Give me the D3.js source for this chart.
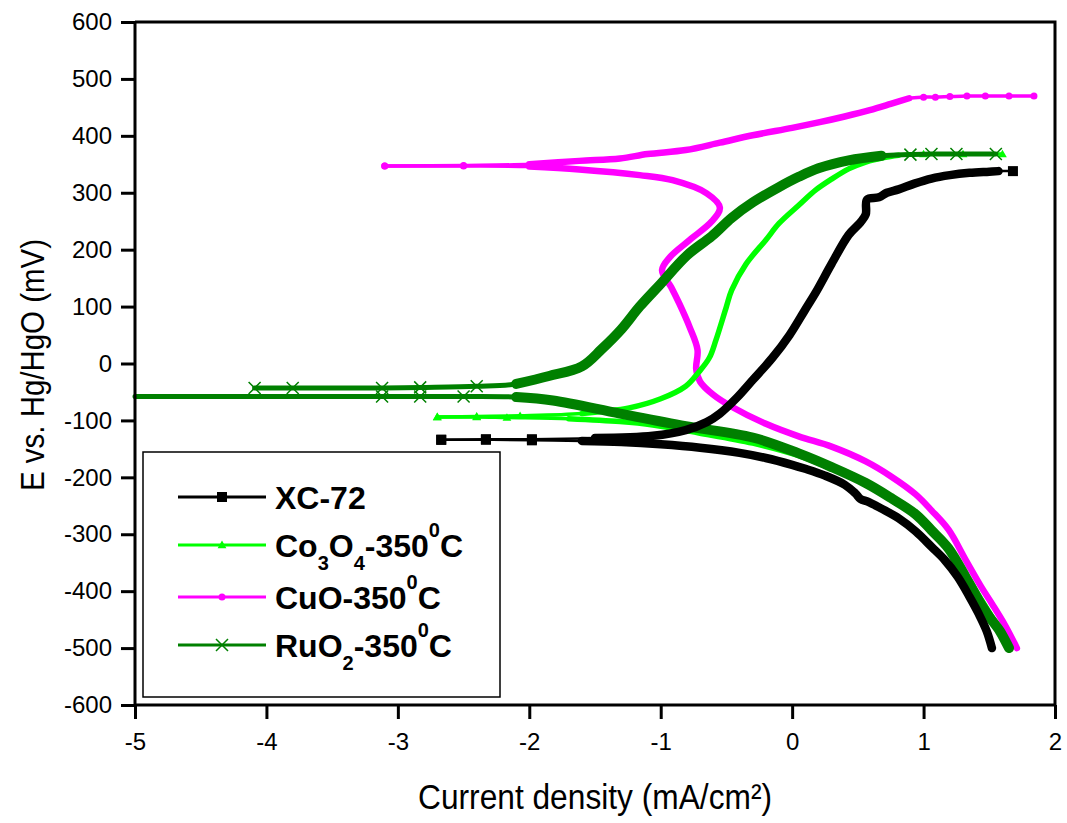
<!DOCTYPE html>
<html><head><meta charset="utf-8">
<script src="https://cdn.jsdelivr.net/npm/d3@7"></script>
<style>body{margin:0;background:#fff}svg{display:block}text{font-family:Arial,"Liberation Sans",sans-serif}</style>
</head><body><svg id="c" width="1067" height="823"></svg>
<script>
// ---- data: log current density (x) vs potential E (mV) ----
const xTicks = [-5,-4,-3,-2,-1,0,1,2];
const yTicks = [600,500,400,300,200,100,0,-100,-200,-300,-400,-500,-600];

const xc72Cath = [[1.52,-500],[1.48,-470],[1.42,-440],[1.35,-410],[1.26,-375],[1.16,-345],[1.06,-322],[0.94,-295],[0.81,-272],[0.68,-255],[0.58,-243],[0.52,-238],[0.48,-228],[0.40,-213],[0.25,-197],[0.10,-185],[0,-178],[-0.2,-166],[-0.4,-157],[-0.7,-148],[-1.0,-142],[-1.3,-138],[-1.6,-136],[-1.98,-135],[-2.33,-134],[-2.67,-134]];
const xc72Anod = [[-2.67,-134],[-2.33,-133],[-1.98,-133],[-1.5,-131],[-1.06,-127],[-0.81,-117],[-0.65,-103],[-0.55,-88],[-0.42,-60],[-0.3,-29],[-0.15,10],[-0.02,50],[0.1,95],[0.18,125],[0.3,175],[0.43,226],[0.52,248],[0.56,262],[0.57,288],[0.66,292],[0.72,300],[0.81,306],[0.93,316],[1.06,325],[1.2,331],[1.35,335],[1.5,337],[1.57,338],[1.68,338]];

const co3o4Cath = [[1.66,-500],[1.6,-475],[1.52,-445],[1.44,-415],[1.32,-370],[1.19,-325],[1.06,-293],[0.94,-268],[0.75,-238],[0.56,-212],[0.3,-185],[0.05,-162],[-0.3,-140],[-0.71,-122],[-1.06,-108],[-1.31,-102],[-1.7,-97],[-2.17,-95],[-2.4,-94],[-2.7,-94]];
const co3o4Anod = [[-2.7,-94],[-2.4,-93],[-2.07,-92],[-1.6,-88],[-1.24,-78],[-1.0,-62],[-0.81,-40],[-0.71,-15],[-0.63,10],[-0.58,41],[-0.5,100],[-0.46,129],[-0.35,175],[-0.2,217],[-0.1,246],[0.05,278],[0.18,305],[0.3,324],[0.43,342],[0.56,354],[0.7,362],[0.81,366],[1.0,368],[1.3,368],[1.6,368]];

const cuoCath = [[1.71,-500],[1.62,-460],[1.52,-422],[1.44,-393],[1.32,-345],[1.19,-292],[1.06,-258],[0.94,-230],[0.75,-198],[0.56,-172],[0.3,-146],[0.05,-128],[-0.2,-106],[-0.46,-76],[-0.6,-55],[-0.7,-32],[-0.73,-10],[-0.72,24],[-0.78,64],[-0.86,106],[-0.92,134],[-0.99,164],[-0.93,187],[-0.78,217],[-0.61,250],[-0.55,274],[-0.65,299],[-0.91,322],[-1.16,331],[-1.62,341],[-2.0,346],[-2.5,347],[-3.1,347]];
const cuoAnod = [[-3.1,347],[-2.5,348],[-2.0,350],[-1.62,356],[-1.31,360],[-1.1,368],[-0.81,375],[-0.55,388],[-0.3,401],[0,414],[0.21,424],[0.4,434],[0.59,445],[0.75,456],[0.89,466],[1.0,468],[1.09,468],[1.2,469],[1.33,470],[1.47,470],[1.65,470],[1.84,470]];

const ruo2Cath = [[1.65,-500],[1.58,-470],[1.5,-445],[1.44,-424],[1.32,-375],[1.19,-325],[1.06,-293],[0.94,-265],[0.75,-236],[0.56,-210],[0.3,-182],[0.05,-158],[-0.3,-130],[-0.81,-110],[-1.31,-88],[-1.82,-65],[-2.1,-59],[-2.5,-58],[-2.83,-58],[-3.12,-58],[-5.0,-58]];
const ruo2Anod = [[-4.09,-43],[-3.8,-43],[-3.12,-43],[-2.83,-42],[-2.4,-40],[-2.1,-36],[-1.85,-22],[-1.6,-5],[-1.45,25],[-1.3,60],[-1.16,100],[-1.0,140],[-0.8,190],[-0.61,224],[-0.46,256],[-0.3,283],[-0.1,310],[0.05,328],[0.2,343],[0.43,357],[0.68,365],[0.9,367],[1.06,368],[1.25,368],[1.55,368]];

const seriesNames = ["XC-72","Co3O4-350C","CuO-350C","RuO2-350C"];

// ---- styles (dense = x-range of each branch where markers merge into a thick band) ----
const styles = {
  "XC-72":      {color:"#000000", thin:2.5, thick:8.5,cathDense:[-1.65,2], anodDense:[-1.6,1.58], marker:"square"},
  "Co3O4-350C": {color:"#00ff00", thin:3.5, thick:5.5,cathDense:[-2.0,2],  anodDense:[-2.0,0.95], marker:"triangle"},
  "CuO-350C":   {color:"#ff00ff", thin:3.5, thick:6.5,cathDense:[-2.2,2],  anodDense:[-2.0,0.95], marker:"circle"},
  "RuO2-350C":  {color:"#008000", thin:5,   thick:10, cathDense:[-2.3,2],  anodDense:[-2.3,0.72], marker:"cross"}
};
const branches = {
  "XC-72":[xc72Cath,xc72Anod],
  "Co3O4-350C":[co3o4Cath,co3o4Anod],
  "CuO-350C":[cuoCath,cuoAnod],
  "RuO2-350C":[ruo2Cath,ruo2Anod]
};

const svg = d3.select("#c");
const x = d3.scaleLinear().domain([-5,2]).range([135,1055]);
const y = d3.scaleLinear().domain([-600,600]).range([705,22]);

const drawOrder = ["CuO-350C","Co3O4-350C","RuO2-350C","XC-72"];
const line = d3.line().x(d=>x(d[0])).y(d=>y(d[1])).curve(d3.curveCatmullRom.alpha(0.5));
function marker(g, type, cx, cy, color, s){
  if(type==="square") g.append("rect").attr("x",cx-s/2).attr("y",cy-s/2).attr("width",s).attr("height",s).attr("fill",color);
  else if(type==="circle") g.append("circle").attr("cx",cx).attr("cy",cy).attr("r",s/2).attr("fill",color);
  else if(type==="triangle") g.append("path").attr("d",`M${cx},${cy-s*0.55}L${cx+s*0.55},${cy+s*0.4}L${cx-s*0.55},${cy+s*0.4}Z`).attr("fill",color);
  else if(type==="cross") g.append("path").attr("d",`M${cx-s/2},${cy-s/2}L${cx+s/2},${cy+s/2}M${cx-s/2},${cy+s/2}L${cx+s/2},${cy-s/2}`).attr("stroke",color).attr("stroke-width",1.5).attr("fill","none");
}
const msize = {"square":10,"triangle":8,"circle":7,"cross":12};
drawOrder.forEach(name=>{
  const st = styles[name];
  const g = svg.append("g");
  branches[name].forEach((br,bi)=>{
    const rng = bi===0 ? st.cathDense : st.anodDense;
    g.append("path").attr("d",line(br)).attr("fill","none").attr("stroke",st.color)
      .attr("stroke-width",st.thin).attr("stroke-linejoin","round").attr("stroke-linecap","round");
    const dense = br.filter(d=>d[0]>=rng[0] && d[0]<=rng[1]);
    g.append("path").attr("d",line(dense)).attr("fill","none").attr("stroke",st.color)
      .attr("stroke-width",st.thick).attr("stroke-linejoin","round").attr("stroke-linecap","round");
    br.filter(d=>(d[0]<rng[0]||d[0]>rng[1]) && d[0]>-5).forEach(d=>marker(g,st.marker,x(d[0]),y(d[1]),st.color,msize[st.marker]));
  });
});

// axes
const fmt = d=>String(d);
const axL = svg.append("g").attr("transform","translate(135,0)")
  .call(d3.axisLeft(y).tickValues(yTicks).tickSize(14).tickPadding(9).tickFormat(fmt));
const axB = svg.append("g").attr("transform","translate(0,705)")
  .call(d3.axisBottom(x).tickValues(xTicks).tickSize(14).tickPadding(14).tickFormat(fmt));
[axL,axB].forEach(a=>{
  a.select(".domain").attr("stroke","#000").attr("stroke-width",3);
  a.selectAll(".tick line").attr("stroke","#000").attr("stroke-width",3);
  a.selectAll(".tick text").attr("font-size",24).attr("fill","#000").attr("font-family","Arial, 'Liberation Sans', sans-serif");
});
axL.select(".domain").attr("d","M0,22V705");
axB.select(".domain").attr("d","M135,0H1055");
svg.append("path").attr("d","M135,22H1055V705").attr("fill","none").attr("stroke","#000").attr("stroke-width",3);

// axis titles
svg.append("text").attr("transform","translate(44,365) rotate(-90)").attr("text-anchor","middle")
  .attr("font-size",33).attr("textLength",252).attr("lengthAdjust","spacingAndGlyphs").text("E vs. Hg/HgO (mV)");
svg.append("text").attr("x",418).attr("y",809).attr("font-size",35)
  .attr("textLength",354).attr("lengthAdjust","spacingAndGlyphs").text("Current density (mA/cm\u00B2)");

// legend
svg.append("rect").attr("x",143).attr("y",452).attr("width",357).attr("height",245)
  .attr("fill","#fff").attr("stroke","#000").attr("stroke-width",1.5);
const legRows = [497,545,597,645];
const legText = [
  [["XC-72",0,32]],
  [["Co",0,32],["3",13,20],["O",-13,32],["4",13,20],["-350",-13,32],["0",-20,20],["C",20,32]],
  [["CuO-350",0,32],["0",-20,20],["C",20,32]],
  [["RuO",0,32],["2",13,20],["-350",-13,32],["0",-20,20],["C",20,32]]
];
seriesNames.forEach((name,i)=>{
  const st = styles[name]; const cy = legRows[i];
  const g = svg.append("g");
  g.append("line").attr("x1",178).attr("x2",266).attr("y1",cy).attr("y2",cy).attr("stroke",st.color).attr("stroke-width",3);
  marker(g,st.marker,222,cy,st.color,msize[st.marker]);
  const t = g.append("text").attr("x",275).attr("y",cy+12).attr("font-weight","bold").attr("fill","#000");
  legText[i].forEach(p=>t.append("tspan").attr("dy",p[1]).attr("font-size",p[2]).text(p[0]));
});
</script></body></html>
